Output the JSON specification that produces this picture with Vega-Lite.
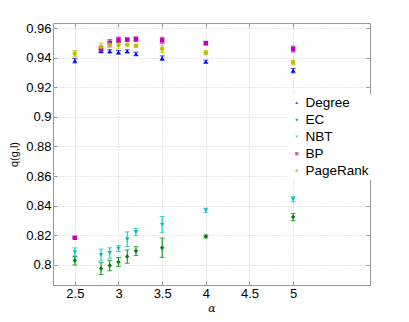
{
  "$schema": "https://vega.github.io/schema/vega-lite/v6.json",
  "autosize": {"type": "none"},
  "width": 317,
  "height": 262,
  "padding": {"left": 53, "top": 23, "right": 39, "bottom": 37},
  "background": "white",
  "config": {
    "view": {"stroke": "#999999", "strokeWidth": 1},
    "font": "Liberation Sans",
    "axis": {
      "domain": false,
      "grid": true,
      "gridColor": "#cccccc",
      "gridDash": [1, 2],
      "tickColor": "#999999",
      "tickSize": -4,
      "labelOverlap": false,
      "labelFont": "Liberation Sans",
      "labelFontSize": 13,
      "labelColor": "#000000",
      "titleFontWeight": "normal",
      "titleColor": "#000000"
    },
    "legend": {
      "orient": "none", "legendX": 235, "legendY": 71,
      "labelFontSize": 13.5, "labelFont": "Liberation Sans", "symbolSize": 10, "symbolStrokeWidth": 0,
      "rowPadding": 2, "labelOffset": 2, "fillColor": "white", "padding": 2, "labelColor": "#000000"
    }
  },
  "data": {
    "values": [
      {"method": "Degree", "alpha": 2.5, "q": 0.938, "lo": 0.9365, "hi": 0.9395},
      {"method": "Degree", "alpha": 2.8, "q": 0.9445, "lo": 0.9433, "hi": 0.9457},
      {"method": "Degree", "alpha": 2.9, "q": 0.9443, "lo": 0.9433, "hi": 0.9453},
      {"method": "Degree", "alpha": 3.0, "q": 0.9436, "lo": 0.9424, "hi": 0.9448},
      {"method": "Degree", "alpha": 3.1, "q": 0.9443, "lo": 0.9433, "hi": 0.9453},
      {"method": "Degree", "alpha": 3.2, "q": 0.9425, "lo": 0.9413, "hi": 0.9437},
      {"method": "Degree", "alpha": 3.5, "q": 0.9397, "lo": 0.9382, "hi": 0.9412},
      {"method": "Degree", "alpha": 4.0, "q": 0.9373, "lo": 0.9363, "hi": 0.9383},
      {"method": "Degree", "alpha": 5.0, "q": 0.9312, "lo": 0.9297, "hi": 0.9327},
      {"method": "EC", "alpha": 2.5, "q": 0.8029, "lo": 0.7999, "hi": 0.8059},
      {"method": "EC", "alpha": 2.8, "q": 0.7975, "lo": 0.7935, "hi": 0.8015},
      {"method": "EC", "alpha": 2.9, "q": 0.7995, "lo": 0.796, "hi": 0.803},
      {"method": "EC", "alpha": 3.0, "q": 0.802, "lo": 0.799, "hi": 0.805},
      {"method": "EC", "alpha": 3.1, "q": 0.8056, "lo": 0.8011, "hi": 0.8101},
      {"method": "EC", "alpha": 3.2, "q": 0.8093, "lo": 0.8063, "hi": 0.8123},
      {"method": "EC", "alpha": 3.5, "q": 0.8116, "lo": 0.8051, "hi": 0.8181},
      {"method": "EC", "alpha": 4.0, "q": 0.8192, "lo": 0.8182, "hi": 0.8202},
      {"method": "EC", "alpha": 5.0, "q": 0.8323, "lo": 0.8298, "hi": 0.8348},
      {"method": "NBT", "alpha": 2.5, "q": 0.8085, "lo": 0.8055, "hi": 0.8115},
      {"method": "NBT", "alpha": 2.8, "q": 0.8067, "lo": 0.8027, "hi": 0.8107},
      {"method": "NBT", "alpha": 2.9, "q": 0.808, "lo": 0.8045, "hi": 0.8115},
      {"method": "NBT", "alpha": 3.0, "q": 0.811, "lo": 0.809, "hi": 0.813},
      {"method": "NBT", "alpha": 3.1, "q": 0.8173, "lo": 0.8123, "hi": 0.8223},
      {"method": "NBT", "alpha": 3.2, "q": 0.8222, "lo": 0.8197, "hi": 0.8247},
      {"method": "NBT", "alpha": 3.5, "q": 0.8272, "lo": 0.8217, "hi": 0.8327},
      {"method": "NBT", "alpha": 4.0, "q": 0.8368, "lo": 0.8353, "hi": 0.8383},
      {"method": "NBT", "alpha": 5.0, "q": 0.8443, "lo": 0.8425, "hi": 0.8461},
      {"method": "BP", "alpha": 2.5, "q": 0.8183, "lo": 0.8178, "hi": 0.8188},
      {"method": "BP", "alpha": 2.8, "q": 0.9455, "lo": 0.9435, "hi": 0.9475},
      {"method": "BP", "alpha": 2.9, "q": 0.95, "lo": 0.9478, "hi": 0.9522},
      {"method": "BP", "alpha": 3.0, "q": 0.952, "lo": 0.9502, "hi": 0.9538},
      {"method": "BP", "alpha": 3.1, "q": 0.9522, "lo": 0.9512, "hi": 0.9532},
      {"method": "BP", "alpha": 3.2, "q": 0.9525, "lo": 0.951, "hi": 0.954},
      {"method": "BP", "alpha": 3.5, "q": 0.9517, "lo": 0.9497, "hi": 0.9537},
      {"method": "BP", "alpha": 4.0, "q": 0.9498, "lo": 0.9486, "hi": 0.951},
      {"method": "BP", "alpha": 5.0, "q": 0.9458, "lo": 0.9438, "hi": 0.9478},
      {"method": "PageRank", "alpha": 2.5, "q": 0.9428, "lo": 0.9408, "hi": 0.9448},
      {"method": "PageRank", "alpha": 2.8, "q": 0.9473, "lo": 0.9448, "hi": 0.9498},
      {"method": "PageRank", "alpha": 2.9, "q": 0.9488, "lo": 0.9468, "hi": 0.9508},
      {"method": "PageRank", "alpha": 3.0, "q": 0.9485, "lo": 0.946, "hi": 0.951},
      {"method": "PageRank", "alpha": 3.1, "q": 0.9488, "lo": 0.9478, "hi": 0.9498},
      {"method": "PageRank", "alpha": 3.2, "q": 0.948, "lo": 0.947, "hi": 0.949},
      {"method": "PageRank", "alpha": 3.5, "q": 0.946, "lo": 0.9435, "hi": 0.9485},
      {"method": "PageRank", "alpha": 4.0, "q": 0.9433, "lo": 0.9418, "hi": 0.9448},
      {"method": "PageRank", "alpha": 5.0, "q": 0.9367, "lo": 0.9352, "hi": 0.9382}
    ]
  },
  "encoding": {
    "color": {
      "field": "method", "type": "nominal",
      "scale": {"domain": ["Degree", "EC", "NBT", "BP", "PageRank"],
                "range": ["#0000ff", "#008000", "#00bfbf", "#bf00bf", "#bfbf00"]},
      "legend": {"title": null, "symbolSize": 10, "symbolStrokeWidth": 0}
    }
  },
  "resolve": {"axis": {"x": "independent", "y": "independent"}},
  "layer": [
    {
      "mark": {"type": "errorbar", "ticks": {"size": 5}, "thickness": 1},
      "encoding": {
        "x": {
          "field": "alpha", "type": "quantitative",
          "scale": {"domain": [2.25, 5.88], "nice": false, "zero": false},
          "axis": {"values": [2.5, 3, 3.5, 4, 4.5, 5], "format": "~g", "title": "α", "orient": "bottom",
                   "titleFont": "DejaVu Serif", "titleFontStyle": "italic", "titleFontSize": 11, "titlePadding": 2, "labelPadding": 6}
        },
        "y": {"field": "lo", "type": "quantitative",
              "scale": {"domain": [0.7864, 0.9634], "nice": false, "zero": false},
              "axis": {"values": [0.8, 0.82, 0.84, 0.86, 0.88, 0.9, 0.92, 0.94, 0.96], "format": "~g", "title": "q(g,l)", "orient": "left",
                       "titleFontSize": 11, "titlePadding": 6, "labelPadding": 6, "labelOverlap": false}},
        "y2": {"field": "hi"}
      }
    },
    {
      "mark": {"type": "point", "filled": true, "size": 20, "opacity": 1, "strokeWidth": 0},
      "encoding": {
        "x": {
          "field": "alpha", "type": "quantitative",
          "axis": {"values": [2.5, 3, 3.5, 4, 4.5, 5], "orient": "top", "labels": false, "grid": false, "title": null}
        },
        "y": {"field": "q", "type": "quantitative",
              "axis": {"values": [0.8, 0.82, 0.84, 0.86, 0.88, 0.9, 0.92, 0.94, 0.96], "orient": "right", "labels": false, "grid": false, "title": null}},
        "shape": {
          "field": "method", "type": "nominal",
          "scale": {"domain": ["Degree", "EC", "NBT", "BP", "PageRank"],
                    "range": ["triangle-up", "diamond", "triangle-down", "square", "circle"]},
          "legend": {"title": null, "symbolSize": 10, "symbolStrokeWidth": 0}
        }
      }
    }
  ]
}
